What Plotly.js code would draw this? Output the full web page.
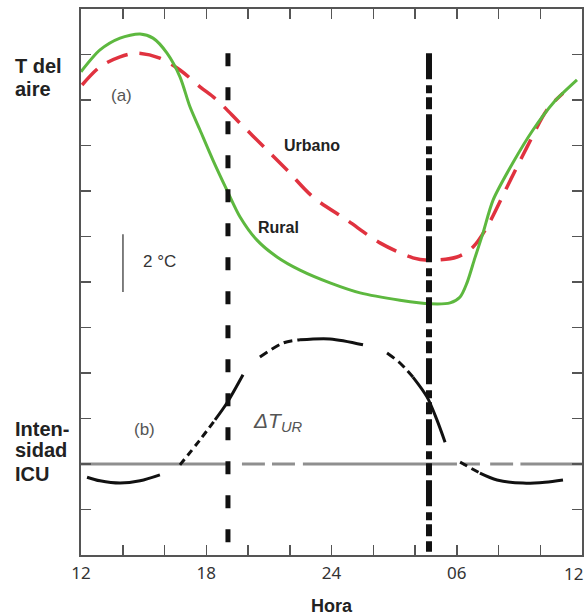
<!DOCTYPE html>
<html>
<head>
<meta charset="utf-8">
<script src="https://cdn.plot.ly/plotly-3.0.1.min.js"></script>
<style>html,body{margin:0;padding:0;background:#fff;}#chart{width:584px;height:616px;}</style>
</head>
<body>
<div id="chart"></div>
<script>
// Hours (12 = noon day 1, 36 = noon day 2); y in relative units (tick spacing = 1)
const ruralHours = [12.00,12.91,13.87,14.83,15.45,16.12,16.74,17.22,17.70,18.32,18.99,19.62,20.43,21.39,22.49,23.93,25.37,27.28,28.72,29.68,30.16,30.49,30.87,31.26,31.74,32.69,33.65,34.61,35.76];
const ruralTemp  = [10.62,11.10,11.36,11.45,11.36,11.03,10.51,9.85,9.34,8.68,8.02,7.43,6.92,6.55,6.26,5.98,5.76,5.60,5.52,5.54,5.67,5.98,6.53,7.08,7.80,8.62,9.34,9.93,10.44];

const urbanHours = [12.05,12.91,13.87,14.68,15.78,16.74,17.70,18.51,19.62,20.91,21.87,23.11,24.74,26.32,27.90,28.62,30.01,30.78,31.45,32.41,33.37,34.32,35.09];
const urbanTemp  = [10.33,10.73,10.95,11.03,10.92,10.66,10.29,10.00,9.49,8.90,8.46,7.87,7.36,6.86,6.53,6.48,6.55,6.77,7.21,8.09,8.97,9.78,10.15];

const icuHours = [12.29,12.91,13.87,14.83,15.78,16.74,17.70,18.42,18.99,19.76,20.57,21.68,22.49,23.93,25.51,26.66,27.28,27.90,28.58,29.05,29.44,30.16,31.11,31.93,33.17,34.23,35.09];
const icuValue = [1.71,1.63,1.58,1.63,1.76,1.98,2.53,2.97,3.34,3.96,4.35,4.66,4.73,4.75,4.62,4.44,4.22,3.91,3.47,2.97,2.48,2.04,1.80,1.65,1.58,1.60,1.65];

const icuBaseline = 2;
const baselineSegments = [[12,19.04],[19.71,20.81],[21.15,22.25],[22.63,30.01],[30.30,31.11],[31.60,32.70],[33.05,36]];

const sunsetHour = 19.04;
const sunriseHour = 28.67;

const xTickVals = [12,14,16,18,20,22,24,26,28,30,32,34,36];
const xTickText = ['12','','','18','','','24','','','06','','',''];
const lastTickLabel = '12';

const traces = [];

// baseline (gray) segments
{
  const bx = [], by = [];
  baselineSegments.forEach(s => { bx.push(s[0], s[1], null); by.push(icuBaseline, icuBaseline, null); });
  traces.push({x: bx, y: by, mode: 'lines', line: {color: '#8f8f8f', width: 3}, hoverinfo: 'skip'});
}

// ICU curve with alternating solid / dashed pieces
const icuPieces = [[0,4,'solid'],[5,7,'7px,5px'],[7,9,'solid'],[10,12,'9px,5px'],[12,14,'solid'],[15,17,'9px,5px'],[17,20,'solid'],[21,22,'8px,5px'],[22,26,'solid']];
icuPieces.forEach(p => {
  traces.push({
    x: icuHours.slice(p[0], p[1] + 1),
    y: icuValue.slice(p[0], p[1] + 1),
    mode: 'lines',
    line: {color: '#111', width: 3, dash: p[2], shape: 'spline', smoothing: 0.9},
    hoverinfo: 'skip'
  });
});

traces.push({x: urbanHours, y: urbanTemp, mode: 'lines', name: 'Urbano',
  line: {color: '#e0323f', width: 3.5, dash: '22px,12px', shape: 'spline', smoothing: 0.9}});
traces.push({x: ruralHours, y: ruralTemp, mode: 'lines', name: 'Rural',
  line: {color: '#5db83f', width: 3, shape: 'spline', smoothing: 0.8}});

traces.push({x: [sunsetHour, sunsetHour], y: [11.03, 0.22], mode: 'lines',
  line: {color: '#111', width: 5, dash: '13px,21px'}, hoverinfo: 'skip'});
traces.push({x: [sunriseHour, sunriseHour], y: [11.03, 0.07], mode: 'lines',
  line: {color: '#111', width: 6, dash: '26px,6px,8px,4px,12px,5px'}, hoverinfo: 'skip'});

const boldFont = {family: 'Liberation Sans, Arial, sans-serif', size: 20, color: '#222', weight: 'bold'};
const labFont = {family: 'Liberation Sans, Arial, sans-serif', size: 16, color: '#222', weight: 'bold'};
const grayFont = {family: 'Liberation Sans, Arial, sans-serif', size: 17, color: '#555'};
const tickFont = {family: 'Noto Sans, Open Sans, sans-serif', size: 17, color: '#333'};

function ann(text, x, y, font, xanchor) {
  return {text: text, x: x, y: y, xref: 'x', yref: 'y', showarrow: false, font: font,
          xanchor: xanchor || 'center', yanchor: 'middle'};
}
// left-side labels placed in paper coordinates (outside the plot area)
const leftX = -0.1357;
function leftAnn(text, y) {
  return {text: text, x: leftX, y: y, xref: 'paper', yref: 'y', showarrow: false, font: boldFont,
          xanchor: 'left', yanchor: 'middle'};
}

const layout = {
  width: 584, height: 616,
  margin: {l: 81, r: 2, t: 9, b: 61},
  paper_bgcolor: '#fff', plot_bgcolor: '#fff',
  showlegend: false,
  xaxis: {
    range: [12, 36], tickmode: 'array', tickvals: xTickVals, ticktext: xTickText,
    ticks: 'inside', ticklen: 10, tickwidth: 1.5, tickcolor: '#555',
    showline: true, linecolor: '#555', linewidth: 2, mirror: 'ticks',
    showgrid: false, zeroline: false, ticklabelstandoff: 2,
    tickfont: tickFont,
    title: {text: 'Hora', standoff: 16, font: {family: 'Liberation Sans, Arial, sans-serif', size: 18, color: '#222', weight: 'bold'}}
  },
  yaxis: {
    range: [0, 12], tickmode: 'linear', tick0: 0, dtick: 1, showticklabels: false,
    ticks: 'inside', ticklen: 10, tickwidth: 1.5, tickcolor: '#555',
    showline: true, linecolor: '#555', linewidth: 2, mirror: 'ticks',
    showgrid: false, zeroline: false
  },
  shapes: [
    {type: 'line', xref: 'x', yref: 'y', x0: 14.01, x1: 14.01, y0: 7.05, y1: 5.78, line: {color: '#555', width: 1.5}}
  ],
  annotations: [
    leftAnn('T del', 10.75),
    leftAnn('aire', 10.24),
    leftAnn('Inten-', 2.76),
    leftAnn('sidad', 2.31),
    leftAnn('ICU', 1.77),
    {text: lastTickLabel, x: 1.003, y: -0.033, xref: 'paper', yref: 'paper', showarrow: false,
     font: tickFont, xanchor: 'right', yanchor: 'middle', borderpad: 0},
    ann('(a)', 13.96, 10.11, grayFont),
    ann('(b)', 15.02, 2.75, grayFont),
    ann('Urbano', 23.07, 9.01, labFont),
    ann('Rural', 21.44, 7.19, labFont),
    ann('2 °C', 15.78, 6.46, {family: 'Liberation Sans, Arial, sans-serif', size: 17, color: '#333'}),
    ann('<i>ΔT<sub>UR</sub></i>', 21.44, 2.92, {family: 'Liberation Sans, Arial, sans-serif', size: 21, color: '#555'})
  ]
};

Plotly.newPlot('chart', traces, layout, {staticPlot: true, displayModeBar: false});
</script>
</body>
</html>
